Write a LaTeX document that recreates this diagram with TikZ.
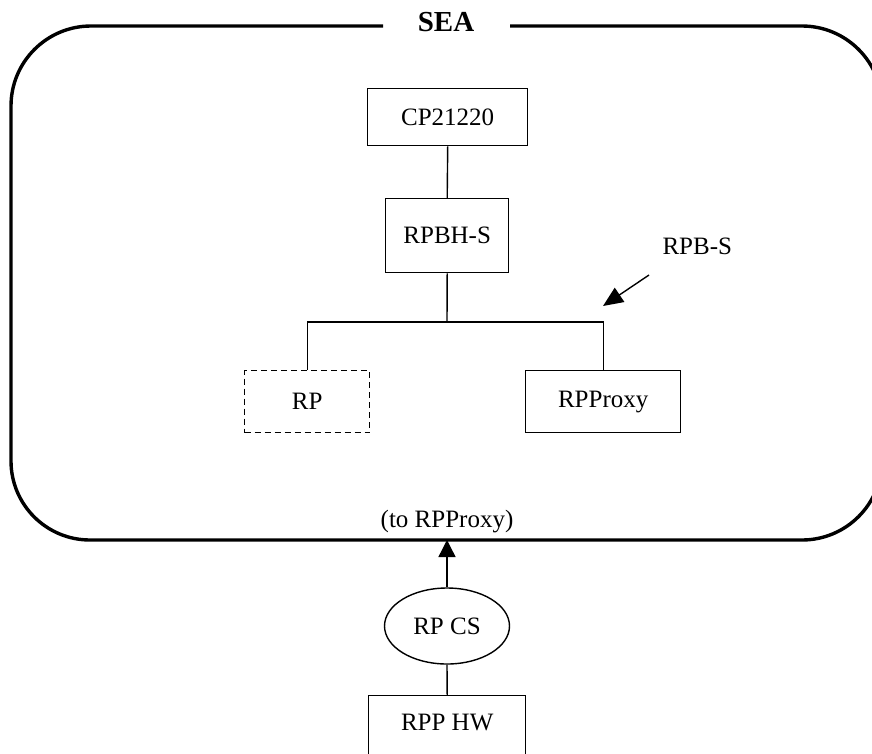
\documentclass[tikz,border=0pt]{standalone}
\usepackage{fontspec}
\setmainfont{Liberation Serif}
\usetikzlibrary{arrows.meta,shapes.geometric}
\begin{document}
\begin{tikzpicture}[x=1pt,y=1pt,
  font=\fontsize{25}{30}\selectfont,
  thin line/.style={line width=1.4pt},
  unit/.style={draw,thin line,rectangle,inner sep=0pt,anchor=north west},
  ghost/.style={unit,dashed,dash pattern=on 6pt off 4pt},
  ring/.style={draw,thin line,ellipse,inner sep=0pt,minimum width=125pt,minimum height=76pt},
  heavy/.style={line width=3.4pt},
  tip/.style={-{Triangle[length=17pt,width=17pt]}},
  bigtip/.style={-{Triangle[length=20pt,width=17pt]}}]
\useasboundingbox (0,0) rectangle (872,-753);

% enclosing SEA boundary with its title gap (right side runs past the page edge)
\draw[heavy,line cap=butt]
  (510,-26) -- (802,-26)
  arc[start angle=90,end angle=0,radius=80] -- (882,-460)
  arc[start angle=0,end angle=-90,radius=80] -- (90,-540)
  arc[start angle=270,end angle=180,radius=79] -- (11,-106)
  arc[start angle=180,end angle=90,radius=80] -- (383,-26);
\node[font=\fontsize{29}{34}\selectfont\bfseries] (sea) at (446,-22) {SEA};
\coordinate (seabottom) at (447,-540);

% boxes inside the boundary
\node[unit,minimum width=160pt,minimum height=57pt] (cp) at (367,-88) {};
\node at (cp.center) {CP21220};
\node[unit,minimum width=123pt,minimum height=74pt] (rpbh) at (385,-198) {};
\node at (rpbh.center) {RPBH-S};
\node[ghost,minimum width=125pt,minimum height=62pt] (rp) at (244,-370) {};
\node at (rp.center) {RP};
\node[unit,minimum width=155pt,minimum height=62pt] (proxy) at (525,-370) {};
\node at (proxy.center) {RPProxy};

% tree connectors
\coordinate (bus) at (447,-322);
\draw[thin line] (cp.south) -- (rpbh.north);
\draw[thin line] (rpbh.south) -- (bus);
\draw[thin line] (rp.north) |- (bus) -| (proxy.north);

% RPB-S callout
\node[anchor=west] (rpbs) at (659,-246) {RPB-S};
\coordinate (rpbsfrom) at (649,-275);
\coordinate (rpbsto) at (603,-306);
\draw[thin line,bigtip] (rpbsfrom) -- (rpbsto);

\node (to) at (447,-522) {(to RPProxy)};

% external parts
\node[ring] (rpcs) at (447,-626) {RP CS};
\node[unit,minimum width=157pt,minimum height=75pt] (hw) at (368,-695) {};
\node at ([yshift=-27pt]hw.north) {RPP HW};
\draw[thin line,tip] (rpcs.north) -- (seabottom);
\draw[thin line] (rpcs.south) -- (hw.north);
\end{tikzpicture}
\end{document}
